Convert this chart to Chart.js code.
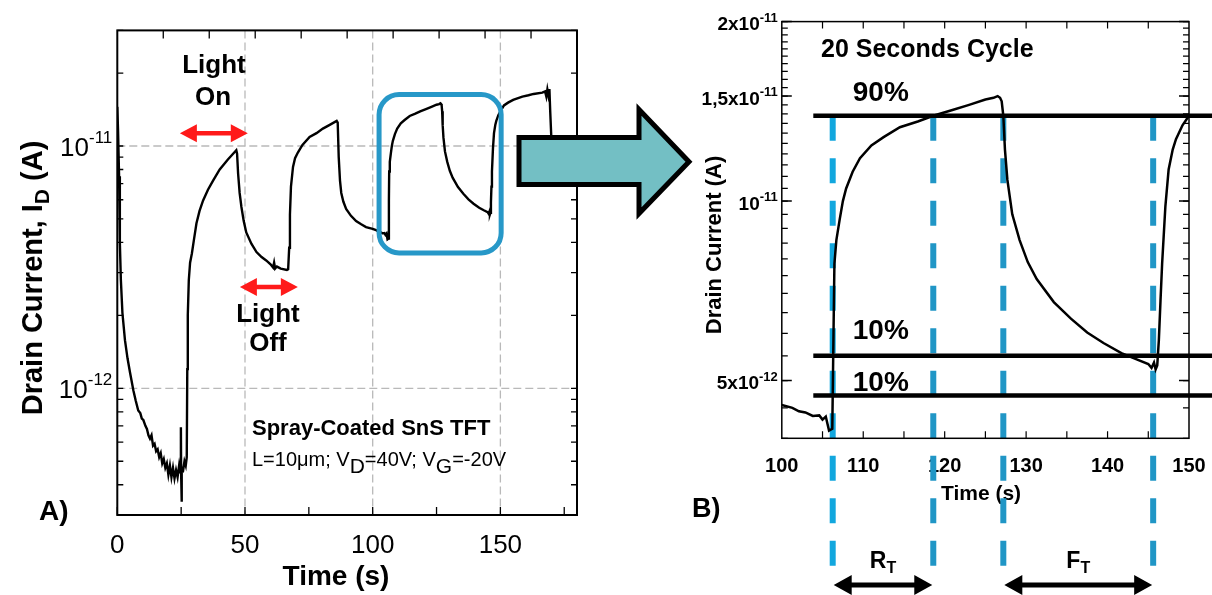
<!DOCTYPE html>
<html>
<head>
<meta charset="utf-8">
<title>SnS TFT photoresponse</title>
<script src="https://cdn.jsdelivr.net/npm/chart.js@4.4.1/dist/chart.umd.min.js"></script>
<style>
  html, body { margin: 0; padding: 0; background: #fff; }
  #wrap { position: relative; width: 1212px; height: 595px; overflow: hidden; }
  #wrap canvas { position: absolute; left: 0; top: 0; }
</style>
</head>
<body>
<div id="wrap">
  <canvas id="overview" width="1212" height="595"></canvas>
  <canvas id="cycle" width="1212" height="595"></canvas>
</div>
<script>
// measured transient: time (s) / drain current (A)
const timeS = [
  0, 0.3, 0.7, 1.0, 1.4, 2.0, 3.0, 4.0, 5.0, 6.3,
  7.2, 8.2, 9.0, 9.6, 10.2, 11.0, 11.6, 12.2, 12.8, 13.4,
  14.0, 14.6, 15.2, 15.8, 16.4, 17.0, 17.6, 18.2, 18.8, 19.4,
  20.0, 20.6, 21.2, 21.8, 22.4, 23.0, 23.6, 24.2, 24.6, 24.9,
  25.0, 25.15, 25.3, 25.8, 26.3, 26.8, 27.2, 27.4, 27.6, 28.0,
  28.5, 29.2, 30.0, 31.0, 32.2, 33.6, 35.5, 37.5, 40.1, 43.3,
  46.6, 46.9, 47.3, 47.9, 48.6, 49.5, 50.5, 52.5, 54.5, 56.5,
  58.3, 60.0, 61.0, 61.4, 61.8, 62.5, 64.0, 66.4, 66.9, 67.3,
  67.6, 68.0, 68.8, 69.6, 70.7, 72.5, 75.3, 78.0, 80.5, 83.0,
  85.9, 86.3, 86.7, 87.2, 87.7, 88.5, 89.6, 91.5, 93.5, 95.5,
  97.4, 100.0, 101.3, 102.1, 102.9, 103.8, 104.6, 105.0, 105.4, 105.8,
  106.2, 106.35, 106.46, 106.7, 107.1, 107.5, 107.9, 108.7, 109.6, 111.0,
  112.5, 114.5, 116.7, 118.6, 120.85, 123.0, 125.0, 126.0, 126.5, 126.8,
  127.0, 127.2, 127.4, 127.7, 128.3, 129.2, 130.2, 131.3, 133.4, 135.5,
  137.5, 139.5, 141.7, 143.5, 145.0, 145.4, 145.7, 145.9, 146.1, 146.3,
  146.5, 146.7, 147.1, 147.5, 148.0, 148.4, 149.2, 150.0, 151.4, 153.0,
  155.0, 158.6, 161.0, 163.0, 166.4, 167.5, 168.0, 168.4, 168.8, 169.2,
  169.5, 170.0, 170.3
];
const drainA = [
  1.45e-11, 1.15e-11, 7.5e-12, 4.0e-12, 2.8e-12, 2.05e-12, 1.58e-12, 1.33e-12, 1.16e-12, 9.8e-13,
  8.9e-13, 8.1e-13, 7.9e-13, 7.5e-13, 7.4e-13, 7.0e-13, 6.8e-13, 6.4e-13, 6.2e-13, 6.4e-13,
  5.8e-13, 5.9e-13, 5.5e-13, 5.6e-13, 5.2e-13, 5.4e-13, 4.9e-13, 5.1e-13, 4.7e-13, 4.9e-13,
  4.4e-13, 4.8e-13, 4.3e-13, 4.7e-13, 4.25e-13, 4.6e-13, 4.3e-13, 4.8e-13, 4.5e-13, 6.9e-13,
  4.4e-13, 3.4e-13, 4.7e-13, 4.6e-13, 5.0e-13, 4.8e-13, 5.2e-13, 1.2e-12, 2.0e-12, 2.8e-12,
  3.3e-12, 3.6e-12, 4.1e-12, 4.8e-12, 5.4e-12, 5.96e-12, 6.6e-12, 7.2e-12, 8.0e-12, 8.8e-12,
  9.6e-12, 9.3e-12, 7.7e-12, 6.4e-12, 5.6e-12, 4.9e-12, 4.4e-12, 3.95e-12, 3.65e-12, 3.48e-12,
  3.37e-12, 3.25e-12, 3.15e-12, 3.3e-12, 3.12e-12, 3.18e-12, 3.12e-12, 3.08e-12, 3.1e-12, 3.8e-12,
  5.2e-12, 6.8e-12, 8.2e-12, 8.9e-12, 9.4e-12, 1.01e-11, 1.09e-11, 1.13e-11, 1.18e-11, 1.22e-11,
  1.27e-11, 1.25e-11, 9.0e-12, 7.2e-12, 6.4e-12, 5.9e-12, 5.5e-12, 5.15e-12, 4.9e-12, 4.75e-12,
  4.63e-12, 4.55e-12, 4.5e-12, 4.44e-12, 4.42e-12, 4.36e-12, 4.37e-12, 4.3e-12, 4.35e-12, 4.12e-12,
  4.15e-12, 6.0e-12, 7.85e-12, 8.6e-12, 9.3e-12, 1.0e-11, 1.05e-11, 1.12e-11, 1.18e-11, 1.24e-11,
  1.28e-11, 1.33e-11, 1.36e-11, 1.39e-11, 1.42e-11, 1.45e-11, 1.48e-11, 1.49e-11, 1.5e-11, 1.49e-11,
  1.47e-11, 1.39e-11, 1.22e-11, 1.085e-11, 9.5e-12, 8.6e-12, 7.9e-12, 7.4e-12, 6.77e-12, 6.35e-12,
  6.02e-12, 5.78e-12, 5.56e-12, 5.43e-12, 5.33e-12, 5.25e-12, 5.36e-12, 5.22e-12, 5.3e-12, 5.85e-12,
  6.8e-12, 7.85e-12, 9.8e-12, 1.13e-11, 1.22e-11, 1.27e-11, 1.34e-11, 1.39e-11, 1.47e-11, 1.51e-11,
  1.55e-11, 1.6e-11, 1.62e-11, 1.64e-11, 1.66e-11, 1.68e-11, 1.6e-11, 1.71e-11, 1.62e-11, 1.72e-11,
  1.4e-11, 1.05e-11, 8.5e-12
];

// axis ranges and labelled ticks
const overviewRange = { xMin: 0, xMax: 180, yMin: 3e-13, yMax: 3e-11 };
const overviewGridX = [50, 100, 150];
const overviewDecades = [1e-12, 1e-11];
const cycleRange = { xMin: 100, xMax: 150, yMin: 4e-12, yMax: 2e-11 };
const cycleYTicks = [2e-11, 1.5e-11, 1e-11, 5e-12];
const cycleYBase = ['2x10', '1,5x10', '10', '5x10'];
const cycleYExp = ['-11', '-11', '-11', '-12'];

// light on/off windows, zoom box and rise/fall markers
const lightOnSpan = [24.5, 51.1];
const lightOffSpan = [48.0, 70.7];
const zoomBox = { t0: 102.5, t1: 150.3, i0: 3.62e-12, i1: 1.63e-11 };
const level90 = 1.39e-11;
const level10 = [5.5e-12, 4.72e-12];
const riseEdges = [106.25, 118.6];
const fallEdges = [127.2, 145.6];

const FONT = '"Liberation Sans", Arial, Helvetica, sans-serif';
Chart.defaults.font.family = FONT;
Chart.defaults.color = '#000';

const points = timeS.map((t, i) => ({ x: t, y: drainA[i] }));

// log tick marks: 1..9 x 10^n inside the range
function logMinor(min, max) {
  const out = [];
  for (let e = Math.floor(Math.log10(min)); e <= Math.ceil(Math.log10(max)); e++) {
    for (let m = 1; m < 10; m++) {
      const v = m * Math.pow(10, e);
      if (v >= min * 0.999 && v <= max * 1.001) out.push(v);
    }
  }
  return out;
}

function stepTicks(min, max, step) {
  const out = [];
  const n = Math.round((max - min) / step);
  for (let k = 0; k <= n; k++) out.push(min + k * step);
  return out;
}

function drawTickMarks(ctx, area, scale, values, len, sides) {
  values.forEach(v => {
    const p = scale.getPixelForValue(v);
    ctx.beginPath();
    if (sides.includes('bottom')) { ctx.moveTo(p, area.bottom); ctx.lineTo(p, area.bottom - len); }
    if (sides.includes('top')) { ctx.moveTo(p, area.top); ctx.lineTo(p, area.top + len); }
    if (sides.includes('left')) { ctx.moveTo(area.left, p); ctx.lineTo(area.left + len, p); }
    if (sides.includes('right')) { ctx.moveTo(area.right, p); ctx.lineTo(area.right - len, p); }
    ctx.stroke();
  });
}

function powLabel(ctx, xRight, y, base, exp, mainFont, supFont, mainDy, supDy) {
  ctx.textAlign = 'right';
  ctx.textBaseline = 'alphabetic';
  ctx.font = supFont;
  const ws = ctx.measureText(exp).width;
  ctx.fillText(exp, xRight, y + supDy);
  ctx.font = mainFont;
  ctx.fillText(base, xRight - ws, y + mainDy);
}

// rotated axis title built from runs (text, font, baseline shift)
function verticalTitle(ctx, x, yMid, runs) {
  ctx.save();
  ctx.translate(x, yMid);
  ctx.rotate(-Math.PI / 2);
  ctx.textAlign = 'left';
  ctx.textBaseline = 'alphabetic';
  let total = 0;
  runs.forEach(r => { ctx.font = r.font; r.w = ctx.measureText(r.text).width; total += r.w; });
  let u = -total / 2;
  runs.forEach(r => { ctx.font = r.font; ctx.fillText(r.text, u, r.dy); u += r.w; });
  ctx.restore();
}

function runText(ctx, x, y, runs) {
  ctx.textAlign = 'left';
  ctx.textBaseline = 'alphabetic';
  let u = x;
  runs.forEach(r => { ctx.font = r.font; ctx.fillText(r.text, u, y + r.dy); u += ctx.measureText(r.text).width; });
  return u - x;
}

function doubleArrow(ctx, x1, x2, y, color, shaft, headLen, headHalf) {
  ctx.fillStyle = color;
  ctx.beginPath();
  ctx.moveTo(x1, y);
  ctx.lineTo(x1 + headLen, y - headHalf);
  ctx.lineTo(x1 + headLen, y - shaft / 2);
  ctx.lineTo(x2 - headLen, y - shaft / 2);
  ctx.lineTo(x2 - headLen, y - headHalf);
  ctx.lineTo(x2, y);
  ctx.lineTo(x2 - headLen, y + headHalf);
  ctx.lineTo(x2 - headLen, y + shaft / 2);
  ctx.lineTo(x1 + headLen, y + shaft / 2);
  ctx.lineTo(x1 + headLen, y + headHalf);
  ctx.closePath();
  ctx.fill();
}

function centerText(ctx, text, x, y, font) {
  ctx.font = font;
  ctx.textAlign = 'center';
  ctx.textBaseline = 'alphabetic';
  ctx.fillText(text, x, y);
}

// ---------- panel A: full on/off sequence ----------
const overviewDecor = {
  id: 'overviewDecor',
  beforeDatasetsDraw(chart) {
    const { ctx, chartArea: a, scales: { x, y } } = chart;
    ctx.save();
    ctx.strokeStyle = '#b9b9b9';
    ctx.lineWidth = 1.3;
    ctx.setLineDash([8, 4]);
    overviewGridX.forEach(v => {
      const px = x.getPixelForValue(v);
      ctx.beginPath(); ctx.moveTo(px, a.top); ctx.lineTo(px, a.bottom); ctx.stroke();
    });
    overviewDecades.forEach(v => {
      const py = y.getPixelForValue(v);
      ctx.beginPath(); ctx.moveTo(a.left, py); ctx.lineTo(a.right, py); ctx.stroke();
    });
    ctx.restore();
  },
  afterDraw(chart) {
    const { ctx, chartArea: a, scales: { x, y } } = chart;
    ctx.save();
    ctx.fillStyle = '#000';
    ctx.strokeStyle = '#000';

    // frame and inward ticks
    ctx.lineWidth = 2;
    ctx.strokeRect(a.left, a.top, a.right - a.left, a.bottom - a.top);
    ctx.lineWidth = 1.3;
    drawTickMarks(ctx, a, x, stepTicks(0, 175, 25), 8, ['bottom']);
    drawTickMarks(ctx, a, x, stepTicks(18, 162, 18), 8, ['top']);
    const minor = logMinor(overviewRange.yMin, overviewRange.yMax);
    drawTickMarks(ctx, a, y, minor, 6, ['left', 'right']);

    // decade labels
    overviewDecades.forEach(v => {
      const py = y.getPixelForValue(v);
      powLabel(ctx, a.left - 5, py, '10', String(Math.round(Math.log10(v))),
        '26px ' + FONT, '17px ' + FONT, 10, -3.5);
    });

    // axis titles
    verticalTitle(ctx, 42, 278, [
      { text: 'Drain Current, I', font: 'bold 29px ' + FONT, dy: 0 },
      { text: 'D', font: 'bold 21px ' + FONT, dy: 7 },
      { text: ' (A)', font: 'bold 29px ' + FONT, dy: 0 }
    ]);
    centerText(ctx, 'Time (s)', 336, 585, 'bold 28px ' + FONT);
    ctx.textAlign = 'left';
    ctx.font = 'bold 28px ' + FONT;
    ctx.fillText('A)', 39, 520);

    // light on / off annotations
    centerText(ctx, 'Light', 214, 73, 'bold 26px ' + FONT);
    centerText(ctx, 'On', 213, 105, 'bold 26px ' + FONT);
    centerText(ctx, 'Light', 268, 322, 'bold 26px ' + FONT);
    centerText(ctx, 'Off', 268, 351, 'bold 26px ' + FONT);
    doubleArrow(ctx, x.getPixelForValue(lightOnSpan[0]), x.getPixelForValue(lightOnSpan[1]),
      y.getPixelForValue(1.13e-11), '#ff1a1a', 4.5, 17, 9);
    doubleArrow(ctx, x.getPixelForValue(lightOffSpan[0]), x.getPixelForValue(lightOffSpan[1]),
      y.getPixelForValue(2.62e-12), '#ff1a1a', 4.5, 17, 9);

    // device description
    ctx.fillStyle = '#000';
    ctx.font = 'bold 22px ' + FONT;
    ctx.textAlign = 'left';
    ctx.fillText('Spray-Coated SnS TFT', 252, 435);
    runText(ctx, 252, 466, [
      { text: 'L=10\u03bcm; V', font: '20px ' + FONT, dy: 0 },
      { text: 'D', font: '21px ' + FONT, dy: 7 },
      { text: '=40V; V', font: '20px ' + FONT, dy: 0 },
      { text: 'G', font: '21px ' + FONT, dy: 7 },
      { text: '=-20V', font: '20px ' + FONT, dy: 0 }
    ]);

    // box around the cycle shown in panel B
    const bx0 = x.getPixelForValue(zoomBox.t0), bx1 = x.getPixelForValue(zoomBox.t1);
    const by0 = y.getPixelForValue(zoomBox.i1), by1 = y.getPixelForValue(zoomBox.i0);
    ctx.strokeStyle = '#2798c8';
    ctx.lineWidth = 5;
    ctx.beginPath();
    ctx.roundRect(bx0, by0, bx1 - bx0, by1 - by0, 20);
    ctx.stroke();

    // block arrow pointing to panel B
    ctx.beginPath();
    ctx.moveTo(519, 137.5);
    ctx.lineTo(639, 137.5);
    ctx.lineTo(639, 109.5);
    ctx.lineTo(689, 161.7);
    ctx.lineTo(639, 213.5);
    ctx.lineTo(639, 184.5);
    ctx.lineTo(519, 184.5);
    ctx.closePath();
    ctx.fillStyle = '#73bfc4';
    ctx.fill();
    ctx.strokeStyle = '#000';
    ctx.lineWidth = 5;
    ctx.lineJoin = 'miter';
    ctx.stroke();
    ctx.restore();
  }
};

new Chart(document.getElementById('overview'), {
  type: 'line',
  data: {
    datasets: [{
      data: points,
      borderColor: '#000',
      borderWidth: 2.4,
      pointRadius: 0,
      tension: 0,
      clip: 0
    }]
  },
  options: {
    responsive: false,
    animation: false,
    events: [],
    parsing: false,
    layout: { padding: { left: 0, top: 30.4, right: 635, bottom: 0 } },
    plugins: { legend: { display: false }, tooltip: { enabled: false } },
    scales: {
      x: {
        type: 'linear',
        min: overviewRange.xMin,
        max: overviewRange.xMax,
        afterFit: s => { s.height = 80; s.paddingLeft = 0; s.paddingRight = 0; },
        grid: { display: false },
        border: { display: false },
        ticks: {
          stepSize: 50,
          maxRotation: 0,
          padding: 7,
          font: { size: 26 },
          color: '#000',
          callback: v => (v % 50 === 0 ? String(v) : '')
        }
      },
      y: {
        type: 'logarithmic',
        min: overviewRange.yMin,
        max: overviewRange.yMax,
        afterFit: s => { s.width = 117.3; s.paddingTop = 0; s.paddingBottom = 0; },
        grid: { display: false },
        border: { display: false },
        ticks: { display: false }
      }
    }
  },
  plugins: [overviewDecor]
});

// ---------- panel B: one 20 s cycle ----------
const cycleDecor = {
  id: 'cycleDecor',
  beforeDatasetsDraw(chart) {
    const { ctx, chartArea: a, scales: { x, y } } = chart;
    ctx.save();
    ctx.fillStyle = '#000';

    // y labels and axis titles
    cycleYTicks.forEach((v, i) => {
      powLabel(ctx, a.left - 4, y.getPixelForValue(v), cycleYBase[i], cycleYExp[i],
        'bold 19px ' + FONT, 'bold 13px ' + FONT, 8.5, 0);
    });
    verticalTitle(ctx, 721, 245, [{ text: 'Drain Current (A)', font: 'bold 22px ' + FONT, dy: 0 }]);
    centerText(ctx, 'Time (s)', 981, 500, 'bold 21px ' + FONT);
    ctx.textAlign = 'left';
    ctx.font = 'bold 27px ' + FONT;
    ctx.fillText('B)', 692, 517);

    // dashed markers at the 10 % / 90 % crossings
    const y90 = y.getPixelForValue(level90);
    const edges = [riseEdges[0], riseEdges[1], fallEdges[0], fallEdges[1]];
    ctx.lineWidth = 6;
    ctx.setLineDash([25, 17.5]);
    edges.forEach((t, i) => {
      const px = x.getPixelForValue(t);
      ctx.strokeStyle = i === 0 ? '#12a7de' : '#2096c6';
      ctx.beginPath(); ctx.moveTo(px, y90); ctx.lineTo(px, 568); ctx.stroke();
    });
    ctx.setLineDash([]);

    // threshold levels, running past the frame
    ctx.strokeStyle = '#000';
    ctx.lineWidth = 4.5;
    [level90, level10[0], level10[1]].forEach(v => {
      const py = y.getPixelForValue(v);
      ctx.beginPath(); ctx.moveTo(a.left + 31.5, py); ctx.lineTo(chart.width, py); ctx.stroke();
    });
    ctx.restore();
  },
  afterDraw(chart) {
    const { ctx, chartArea: a, scales: { x, y } } = chart;
    ctx.save();
    ctx.strokeStyle = '#000';
    ctx.fillStyle = '#000';
    ctx.lineWidth = 1.5;
    ctx.strokeRect(a.left, a.top, a.right - a.left, a.bottom - a.top);
    ctx.lineWidth = 1.2;
    drawTickMarks(ctx, a, x, stepTicks(105, 145, 5), 7, ['bottom', 'top']);
    drawTickMarks(ctx, a, y, stepTicks(4e-12, 2e-11, 0.5e-12), 6, ['left', 'right']);
    ctx.lineWidth = 1.5;
    drawTickMarks(ctx, a, y, cycleYTicks, 10, ['left', 'right']);

    // annotations
    ctx.textAlign = 'left';
    ctx.font = 'bold 25px ' + FONT;
    ctx.fillText('20 Seconds Cycle', 821, 57);
    ctx.font = 'bold 28px ' + FONT;
    const tx = a.left + 71;
    ctx.fillText('90%', tx, y.getPixelForValue(level90) - 15);
    ctx.fillText('10%', tx, y.getPixelForValue(level10[0]) - 17);
    ctx.fillText('10%', tx, y.getPixelForValue(level10[1]) - 4);

    // rise / fall time spans under the plot
    const spans = [
      { t: riseEdges, label: 'R' },
      { t: fallEdges, label: 'F' }
    ];
    spans.forEach(s => {
      const x1 = x.getPixelForValue(s.t[0]) + 1;
      const x2 = x.getPixelForValue(s.t[1]) - 1;
      doubleArrow(ctx, x1, x2, 585, '#000', 5, 18, 10);
      ctx.font = 'bold 23px ' + FONT;
      const w1 = ctx.measureText(s.label).width;
      ctx.font = 'bold 16px ' + FONT;
      const w2 = ctx.measureText('T').width;
      runText(ctx, (x1 + x2) / 2 - (w1 + w2) / 2, 568, [
        { text: s.label, font: 'bold 23px ' + FONT, dy: 0 },
        { text: 'T', font: 'bold 16px ' + FONT, dy: 5 }
      ]);
    });
    ctx.restore();
  }
};

new Chart(document.getElementById('cycle'), {
  type: 'line',
  data: {
    datasets: [{
      data: points,
      borderColor: '#000',
      borderWidth: 2.5,
      pointRadius: 0,
      tension: 0,
      clip: 0
    }]
  },
  options: {
    responsive: false,
    animation: false,
    events: [],
    parsing: false,
    layout: { padding: { left: 681.8, top: 21.6, right: 23, bottom: 0 } },
    plugins: { legend: { display: false }, tooltip: { enabled: false } },
    scales: {
      x: {
        type: 'linear',
        min: cycleRange.xMin,
        max: cycleRange.xMax,
        afterFit: s => { s.height = 595 - 438.3; s.paddingLeft = 0; s.paddingRight = 0; },
        grid: { display: false },
        border: { display: false },
        ticks: {
          stepSize: 10,
          maxRotation: 0,
          padding: 8,
          font: { size: 20, weight: 'bold' },
          color: '#000'
        }
      },
      y: {
        type: 'logarithmic',
        min: cycleRange.yMin,
        max: cycleRange.yMax,
        afterFit: s => { s.width = 100; s.paddingTop = 0; s.paddingBottom = 0; },
        grid: { display: false },
        border: { display: false },
        ticks: { display: false }
      }
    }
  },
  plugins: [cycleDecor]
});
</script>
</body>
</html>
